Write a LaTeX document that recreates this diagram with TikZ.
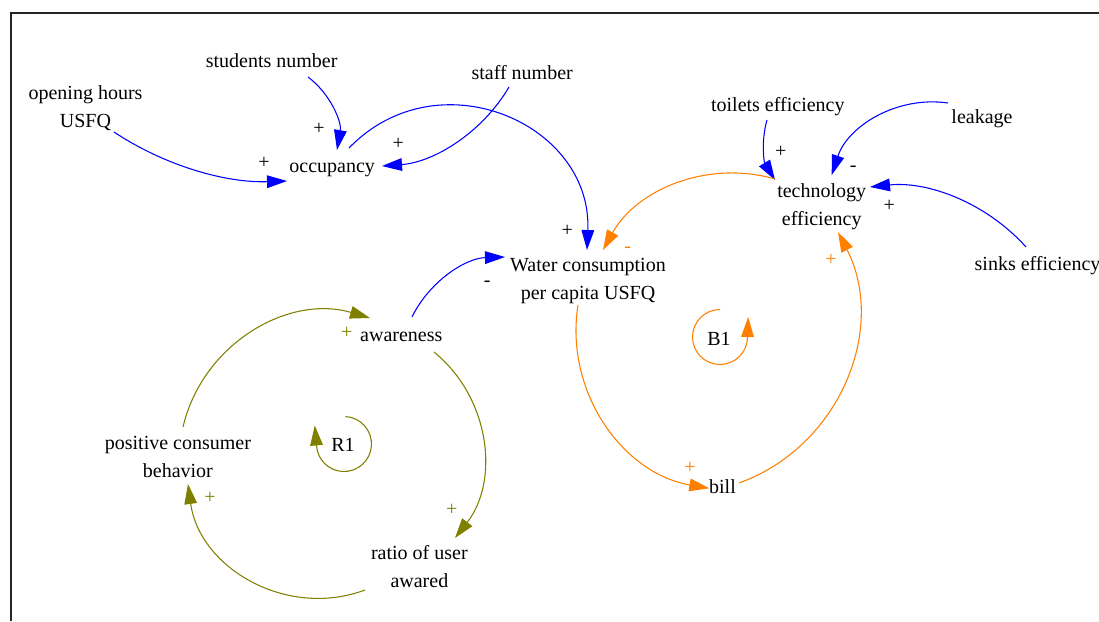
\documentclass[tikz,border=0pt]{standalone}
\usepackage{fontspec}
\setmainfont{Liberation Serif}
\usetikzlibrary{arrows.meta}
\definecolor{linkblue}{RGB}{0,0,255}
\definecolor{looporange}{RGB}{255,128,0}
\definecolor{loopolive}{RGB}{128,128,0}
\begin{document}
\begin{tikzpicture}[x=0.75pt,y=0.75pt,
  var/.style={inner sep=0pt, align=center, text=black, font=\fontsize{15}{21}\selectfont},
  sgn/.style={inner sep=0pt, text height=14.7pt, text depth=6.3pt, font=\fontsize{15}{21}\selectfont},
  link/.style={line width=0.8pt, -{Triangle[length=15pt,width=9.5pt]}},
  blue link/.style={link, draw=linkblue},
  orange link/.style={link, draw=looporange},
  olive link/.style={link, draw=loopolive}]
\useasboundingbox (0,0) rectangle (1099,-621);
% frame
\draw[line width=1.5pt, black!85] (1099,-13.3) -- (10.5,-13.3) -- (10.5,-621);

% variables
\node[var] (open)   at (85.5,-108)    {opening hours\strut\\USFQ\strut};
\node[var] (stud)   at (271.7,-62.1)  {students number\strut};
\node[var] (staff)  at (522.2,-73.4)  {staff number\strut};
\node[var] (occ)    at (332.2,-166.7) {occupancy\strut};
\node[var] (water)  at (588,-280.2)   {Water consumption\strut\\per capita USFQ\strut};
\node[var] (toilet) at (777.8,-106.1) {toilets efficiency\strut};
\node[var] (leak)   at (982,-117.7)   {leakage\strut};
\node[var] (tech)   at (821.7,-205.6) {technology\strut\\efficiency\strut};
\node[var] (sinks)  at (1037.5,-264.4) {sinks efficiency\strut};
\node[var] (aware)  at (401.3,-336.1) {awareness\strut};
\node[var] (pcb)    at (177.9,-458)   {positive consumer\strut\\behavior\strut};
\node[var] (ratio)  at (419.4,-567.9) {ratio of user\strut\\awared\strut};
\node[var] (bill)   at (722.5,-487.7) {bill\strut};
\node[var] (R1)     at (343,-446.1)   {R1\strut};
\node[var] (B1)     at (719,-339.4)   {B1\strut};

% blue causal links
\draw[blue link] ([shift={(28.5,-24)}]open.center) to[bend right=17.8, looseness=0.87] ([shift={(-45.2,-14.3)}]occ.center);
\draw[blue link] ([shift={(36.3,-14.9)}]stud.center) to[bend left=31.5, looseness=0.92] ([shift={(4.8,16.7)}]occ.center);
\draw[blue link] ([shift={(-13.2,-13.6)}]staff.center) to[bend left=27.7, looseness=0.9] ([shift={(49.8,0.7)}]occ.center);
\draw[blue link] ([shift={(16.8,18.7)}]occ.center) to[bend left=69.2, looseness=1.26] ([shift={(-1,30.2)}]water.center);
\draw[blue link] ([shift={(10.7,19.1)}]aware.center) to[bend left=31.1, looseness=0.915] ([shift={(-83,23.2)}]water.center);
\draw[blue link] ([shift={(-10.8,-13.9)}]toilet.center) to[bend right=24, looseness=0.89] ([shift={(-46.7,25.6)}]tech.center);
\draw[blue link] ([shift={(-34,14.7)}]leak.center) to[bend right=40, looseness=0.965] ([shift={(10,30.6)}]tech.center);
\draw[blue link] ([shift={(-11.5,17.4)}]sinks.center) to[bend right=27, looseness=0.9] ([shift={(48.3,18.6)}]tech.center);

% balancing loop B1
\draw[orange link] ([shift={(-46.7,26.6)}]tech.center) to[bend right=38.6, looseness=0.956] ([shift={(15,30.2)}]water.center);
\draw[orange link] ([shift={(-10,-24.8)}]water.center) to[bend right=44.6, looseness=0.995] ([shift={(-13.2,-0.6)}]bill.center);
\draw[orange link] ([shift={(16.5,4.7)}]bill.center) to[bend right=48.6, looseness=1.025] ([shift={(16.3,-26.4)}]tech.center);
\draw[orange link] ([shift={(1,2.4)}]B1.center) ++(90:27.5) arc[start angle=90, end angle=358, radius=27.5] -- ++(88:21);

% reinforcing loop R1
\draw[olive link] ([shift={(32.7,-15.9)}]aware.center) to[bend left=44.4, looseness=0.993] ([shift={(35.6,29.9)}]ratio.center);
\draw[olive link] ([shift={(-54.4,-22.1)}]ratio.center) to[bend left=51.3, looseness=1.045] ([shift={(10.1,-26)}]pcb.center);
\draw[olive link] ([shift={(5.1,31)}]pcb.center) to[bend left=46.6, looseness=1.01] ([shift={(-31.3,18.1)}]aware.center);
\draw[olive link] ([shift={(1,2.1)}]R1.center) ++(87:27.5) arc[start angle=87, end angle=-175, radius=27.5] -- ++(95:21);

% link polarities
\node[sgn] (s1)  at (264,-163.3)   {+};
\node[sgn] (s2)  at (319,-129)     {+};
\node[sgn] (s3)  at (398.3,-144)   {+};
\node[sgn] (s4)  at (567.3,-231)   {+};
\node[sgn] (s5)  at (487.3,-280.7) {-};
\node[sgn] (s6)  at (780.7,-152.3) {+};
\node[sgn] (s7)  at (853.3,-166)   {-};
\node[sgn] (s8)  at (889.3,-206)   {+};
\node[sgn, text=looporange] (s9)  at (627.7,-246.7) {-};
\node[sgn, text=looporange] (s10) at (690,-468.3)   {+};
\node[sgn, text=looporange] (s11) at (831,-260)     {+};
\node[sgn, text=loopolive] (s12) at (451.7,-510)   {+};
\node[sgn, text=loopolive] (s13) at (210,-498.3)   {+};
\node[sgn, text=loopolive] (s14) at (346.7,-332.7) {+};
\end{tikzpicture}
\end{document}
